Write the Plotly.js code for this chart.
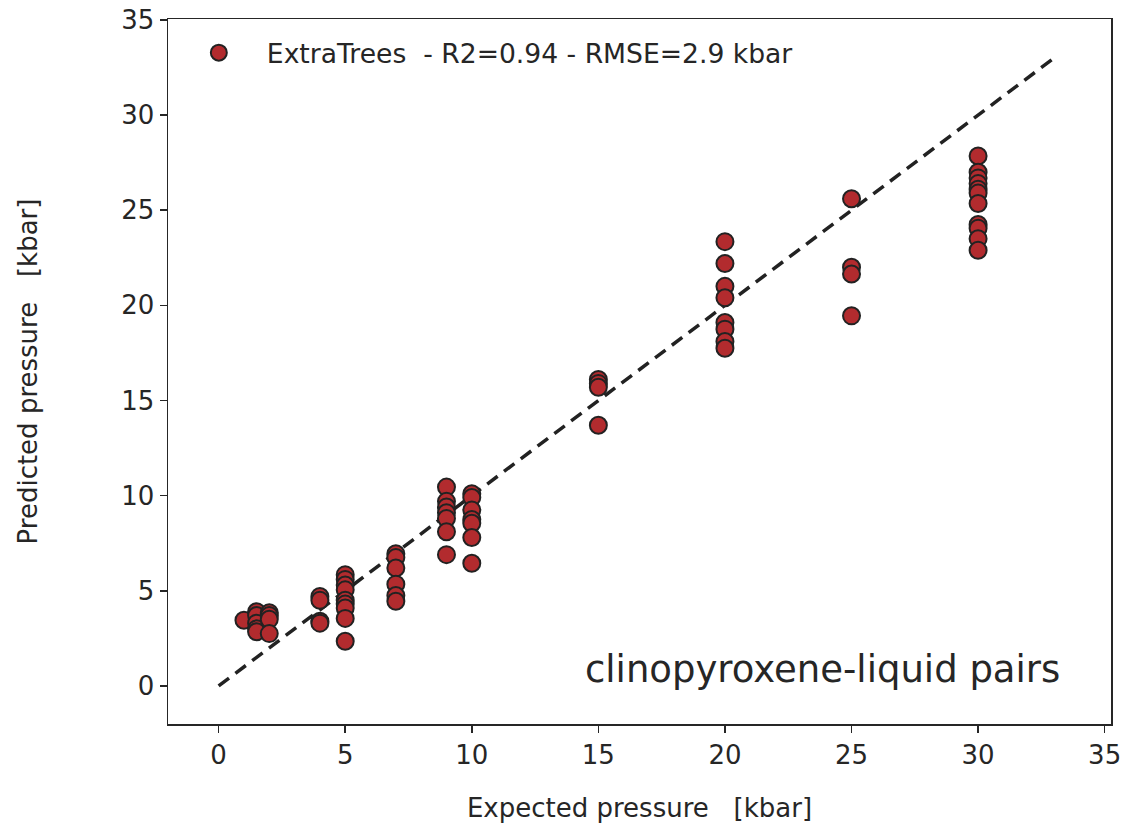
<!DOCTYPE html>
<html>
<head>
<meta charset="utf-8">
<script src="https://cdn.plot.ly/plotly-3.0.1.min.js"></script>
<style>html,body{margin:0;padding:0;background:#fff;}#chart{width:1130px;height:824px;}</style>
</head>
<body>
<div id="chart"></div>
<script>
// Expected pressure groups and predicted values (kbar)
const groupX = [1, 1.5, 2, 4, 5, 7, 9, 10, 15, 20, 25, 30];
const groupPredicted = [
  [3.45],
  [3.9, 3.7, 3.3, 3.0, 2.85],
  [3.85, 3.7, 3.5, 2.75],
  [4.7, 4.5, 3.4, 3.3],
  [5.85, 5.6, 5.3, 5.05, 4.5, 4.3, 4.1, 3.55, 2.35],
  [6.95, 6.75, 6.2, 5.35, 4.75, 4.45],
  [10.45, 9.7, 9.4, 9.1, 8.8, 8.1, 6.9],
  [10.1, 9.9, 9.25, 8.75, 8.55, 7.8, 6.45],
  [16.1, 15.9, 15.7, 13.7],
  [23.35, 22.2, 21.0, 20.4, 19.1, 18.75, 18.1, 17.75],
  [25.6, 22.0, 21.65, 19.45],
  [27.85, 27.0, 26.7, 26.4, 26.1, 25.9, 25.35, 24.25, 24.05, 23.5, 22.9]
];
const identityLine = [0, 33.1];
const xTicks = [0, 5, 10, 15, 20, 25, 30, 35];
const yTicks = [0, 5, 10, 15, 20, 25, 30, 35];
const seriesName = "ExtraTrees  - R2=0.94 - RMSE=2.9 kbar";
const panelLabel = "clinopyroxene-liquid pairs";

const xs = [], ys = [];
groupX.forEach((gx, i) => groupPredicted[i].forEach(v => { xs.push(gx); ys.push(v); }));

const font = {family: "DejaVu Sans, sans-serif", color: "#262626"};

const traces = [
  {
    x: identityLine, y: identityLine, mode: "lines", showlegend: false, hoverinfo: "skip",
    line: {color: "#222222", width: 3.5, dash: "13px,8px"}
  },
  {
    x: xs, y: ys, mode: "markers", name: seriesName,
    marker: {size: 17, color: "#b22b2e", line: {color: "#222222", width: 2}}
  }
];

const axisCommon = {
  showgrid: false, zeroline: false, showline: true, mirror: true,
  linecolor: "#262626", linewidth: 1.5,
  ticks: "outside", ticklen: 7, tickwidth: 1.5, tickcolor: "#262626",
  tickfont: Object.assign({size: 26}, font)
};

const layout = {
  width: 1130, height: 824,
  margin: {l: 168, r: 19, t: 19, b: 100},
  paper_bgcolor: "#fff", plot_bgcolor: "#fff",
  font: font,
  xaxis: Object.assign({}, axisCommon, {
    range: [-2, 35.25], tickvals: xTicks, ticktext: xTicks.map(String),
    title: {text: "Expected pressure   [kbar]", font: Object.assign({size: 26}, font), standoff: 30}
  }),
  yaxis: Object.assign({}, axisCommon, {
    range: [-2, 35.05], tickvals: yTicks, ticktext: yTicks.map(String),
    title: {text: "Predicted pressure   [kbar]", font: Object.assign({size: 26}, font), standoff: 76}
  }),
  legend: {
    x: 0.003, y: 0.986, xanchor: "left", yanchor: "top",
    bgcolor: "rgba(255,255,255,0)", borderwidth: 0, itemwidth: 86,
    font: Object.assign({size: 26.6}, font)
  },
  showlegend: true,
  annotations: [{
    xref: "paper", yref: "paper", x: 0.948, y: 0.0766, xanchor: "right", yanchor: "middle",
    text: panelLabel, showarrow: false, font: Object.assign({size: 37}, font)
  }]
};

Plotly.newPlot("chart", traces, layout, {displayModeBar: false, staticPlot: true});
</script>
</body>
</html>
